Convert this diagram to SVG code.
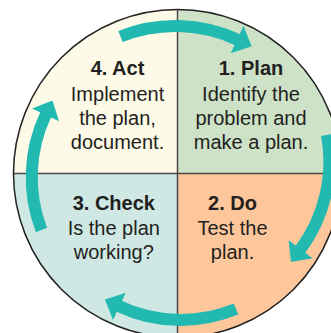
<svg xmlns="http://www.w3.org/2000/svg" width="331" height="333" viewBox="0 0 331 333">
  <style>
    .t { font-family: "Liberation Sans", Arial, sans-serif; font-size: 20px; fill: #231f20; text-anchor: middle; }
    .b { font-weight: bold; }
    .div { stroke: #4a4a4a; stroke-width: 1.5; fill: none; }
    .arr { fill: none; stroke: #22b9b1; stroke-width: 12; stroke-linecap: butt; marker-end: url(#head); }
  </style>
  <defs>
    <clipPath id="cc"><circle cx="177.5" cy="173.5" r="164"/></clipPath>
    <marker id="head" markerUnits="userSpaceOnUse" viewBox="-1 -16 18 32" markerWidth="18" markerHeight="32" refX="1" refY="0" orient="auto">
      <path d="M0,-15 L16,0 L0,15 Z" fill="#22b9b1"/>
    </marker>
  </defs>
  <rect width="331" height="333" fill="#ffffff"/>
  <g clip-path="url(#cc)">
    <g id="act"><rect x="0" y="0" width="177.5" height="173.5" fill="#fefae8"/></g>
    <g id="plan"><rect x="177.5" y="0" width="200" height="173.5" fill="#cde2c7"/></g>
    <g id="check"><rect x="0" y="173.5" width="177.5" height="200" fill="#cfe8e3"/></g>
    <g id="do"><rect x="177.5" y="173.5" width="200" height="200" fill="#fdc79b"/></g>
    <line class="div" x1="177.5" y1="0" x2="177.5" y2="340"/>
    <line class="div" x1="0" y1="173.5" x2="345" y2="173.5"/>
  </g>
  <circle cx="177.5" cy="173.5" r="164" fill="none" stroke="#222" stroke-width="1.5"/>
  <g id="connectors">
    <path class="arr" d="M120.5,36.5 A148,148 0 0 1 238,40"/>
    <path class="arr" d="M327,135 A148,148 0 0 1 300,250"/>
    <path class="arr" d="M236,309 A146,146 0 0 1 118.5,306"/>
    <path class="arr" d="M41.5,230 A147,147 0 0 1 46,114"/>
  </g>
  <g id="act-text">
    <text class="t b" x="117.5" y="75">4. Act</text>
    <text class="t" x="117.5" y="101">Implement</text>
    <text class="t" x="117.5" y="125">the plan,</text>
    <text class="t" x="117.5" y="149">document.</text>
  </g>
  <g id="plan-text">
    <text class="t b" x="251" y="75">1. Plan</text>
    <text class="t" x="251" y="101">Identify the</text>
    <text class="t" x="251" y="125">problem and</text>
    <text class="t" x="251" y="149">make a plan.</text>
  </g>
  <g id="check-text">
    <text class="t b" x="113.8" y="210">3. Check</text>
    <text class="t" x="113.8" y="235">Is the plan</text>
    <text class="t" x="113.8" y="259">working?</text>
  </g>
  <g id="do-text">
    <text class="t b" x="232.5" y="210">2. Do</text>
    <text class="t" x="232.5" y="235">Test the</text>
    <text class="t" x="232.5" y="259">plan.</text>
  </g>
</svg>
